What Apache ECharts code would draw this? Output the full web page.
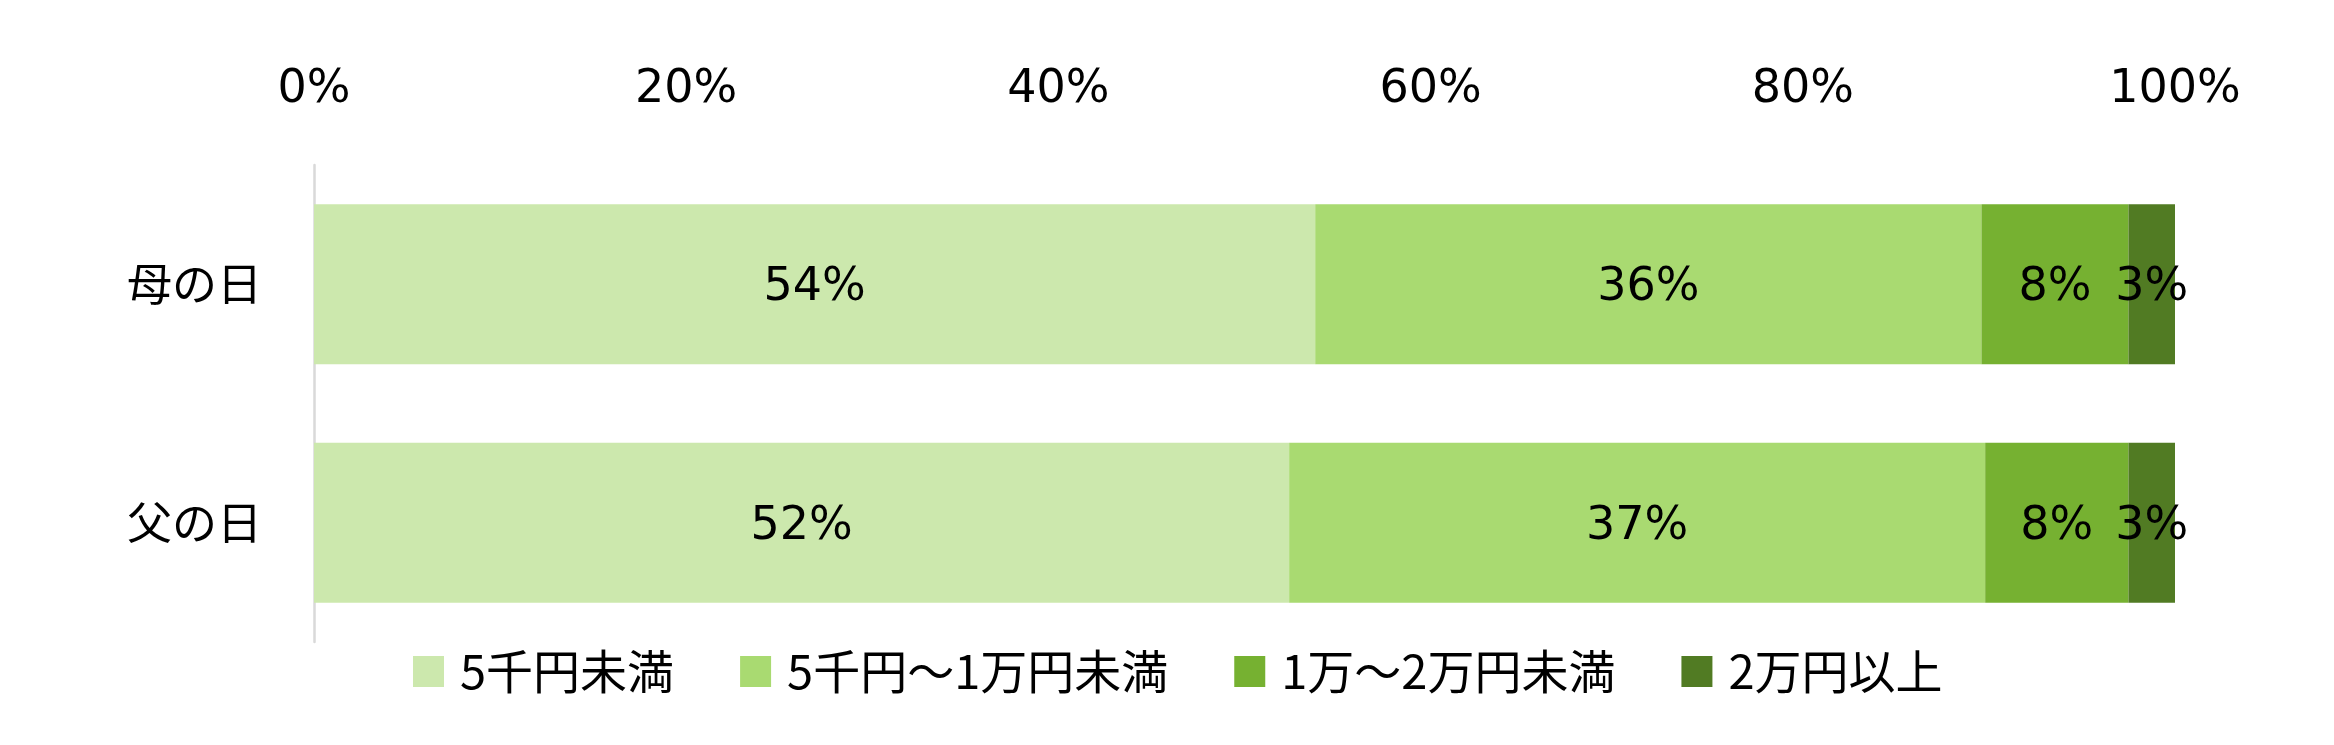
<!DOCTYPE html>
<html>
<head>
<meta charset="utf-8">
<script src="https://cdn.jsdelivr.net/npm/echarts@6/dist/echarts.min.js"></script>
<style>html,body{margin:0;padding:0;background:#fff;}#c{width:2334px;height:745px;}</style>
</head>
<body>
<div id="c"></div>
<script>
const categories = ['母の日', '父の日'];
const seriesNames = ['5千円未満', '5千円～1万円未満', '1万～2万円未満', '2万円以上'];
const under5k = [53.8, 52.4];
const from5kTo10k = [35.8, 37.4];
const from10kTo20k = [7.9, 7.7];
const over20k = [2.5, 2.5];
const colors = ['#CCE8AD', '#A9DA71', '#76B131', '#517B23'];
const xTicks = [0, 20, 40, 60, 80, 100];

const seriesData = [under5k, from5kTo10k, from10kTo20k, over20k];
const numFont = "'DejaVu Sans', 'Noto Sans CJK JP', sans-serif";

const chart = echarts.init(document.getElementById('c'), null, {renderer: 'canvas'});
chart.setOption({
  animation: false,
  backgroundColor: '#ffffff',
  grid: {left: 314, right: 159, top: 165, bottom: 103, containLabel: false},
  legend: {
    data: seriesNames,
    left: 413,
    bottom: 50,
    padding: 0,
    itemWidth: 31,
    itemHeight: 31,
    itemGap: 66,
    icon: 'rect',
    textStyle: {fontFamily: "'Noto Sans CJK JP', sans-serif", fontSize: 47, color: '#000', padding: [0, 0, 0, 11]}
  },
  xAxis: {
    type: 'value',
    position: 'top',
    min: xTicks[0],
    max: xTicks[xTicks.length - 1],
    interval: 20,
    axisLine: {show: false},
    axisTick: {show: false},
    splitLine: {show: false},
    axisLabel: {formatter: '{value}%', fontFamily: numFont, fontSize: 46, color: '#000', margin: 52}
  },
  yAxis: {
    type: 'category',
    data: categories,
    inverse: true,
    axisLine: {show: true, lineStyle: {color: '#D9D9D9', width: 2.5}},
    axisTick: {show: false},
    axisLabel: {fontFamily: "'Noto Sans CJK JP', sans-serif", fontSize: 45, color: '#000', margin: 52}
  },
  series: seriesData.map((d, i) => ({
    name: seriesNames[i],
    type: 'bar',
    stack: 'total',
    data: d,
    barCategoryGap: '33%',
    itemStyle: {color: colors[i]},
    label: {
      show: true,
      position: 'inside',
      offset: [0, 4],
      color: '#000',
      fontFamily: numFont,
      fontSize: 46,
      formatter: p => Math.round(p.value) + '%'
    }
  }))
});
</script>
</body>
</html>
